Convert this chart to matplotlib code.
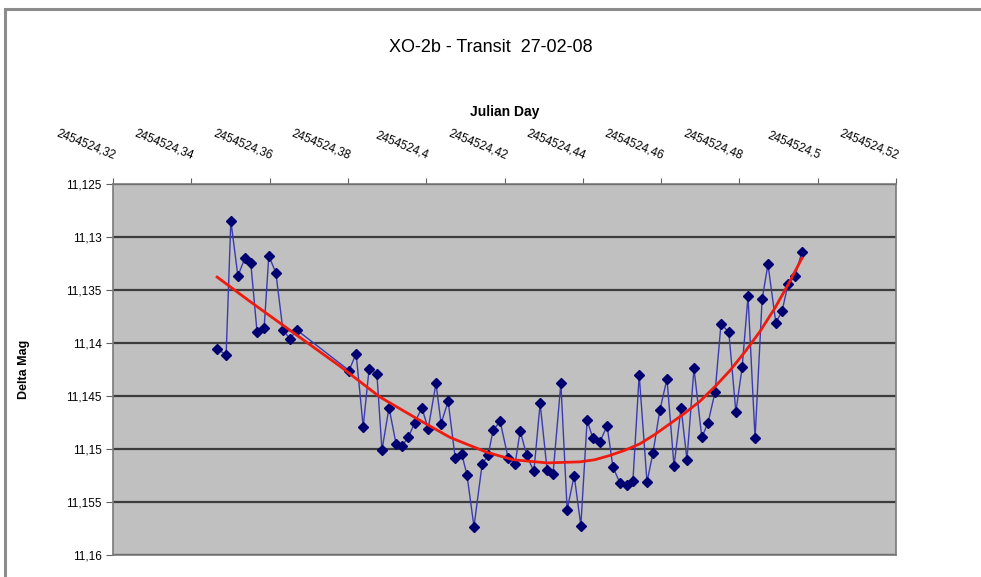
#!/usr/bin/env python3
import matplotlib

matplotlib.use("Agg")
import matplotlib.pyplot as plt
from matplotlib.patches import Rectangle
from matplotlib.ticker import FuncFormatter, MultipleLocator

plt.rcParams["font.family"] = ["Liberation Sans", "DejaVu Sans"]

JD_BASE = 2454524.0

# observation times (fraction of the Julian day after JD_BASE)
jd_frac = [
    0.3466, 0.3489, 0.3501, 0.3519, 0.3537, 0.3552, 0.3568, 0.3586, 0.3598, 0.3616,
    0.3634, 0.3652, 0.3670, 0.3803, 0.3821, 0.3839, 0.3854, 0.3874, 0.3887, 0.3905,
    0.3923, 0.3938, 0.3954, 0.3971, 0.3989, 0.4005, 0.4025, 0.4038, 0.4056, 0.4074,
    0.4091, 0.4104, 0.4122, 0.4143, 0.4158, 0.4171, 0.4189, 0.4209, 0.4227, 0.4240,
    0.4257, 0.4275, 0.4291, 0.4309, 0.4324, 0.4344, 0.4360, 0.4378, 0.4395, 0.4411,
    0.4426, 0.4444, 0.4462, 0.4477, 0.4495, 0.4513, 0.4528, 0.4544, 0.4564, 0.4579,
    0.4597, 0.4615, 0.4633, 0.4651, 0.4666, 0.4684, 0.4704, 0.4720, 0.4738, 0.4753,
    0.4773, 0.4791, 0.4807, 0.4822, 0.4840, 0.4858, 0.4873, 0.4893, 0.4909, 0.4924,
    0.4942, 0.4960,
]
delta_mag = [
    11.1406, 11.1411, 11.1285, 11.1337, 11.1320, 11.1325, 11.1390, 11.1386, 11.1318, 11.1334,
    11.1388, 11.1396, 11.1388, 11.1426, 11.1410, 11.1479, 11.1425, 11.1429, 11.1501, 11.1461,
    11.1495, 11.1497, 11.1489, 11.1475, 11.1461, 11.1481, 11.1438, 11.1476, 11.1455, 11.1508,
    11.1505, 11.1524, 11.1573, 11.1514, 11.1506, 11.1482, 11.1474, 11.1508, 11.1514, 11.1483,
    11.1506, 11.1521, 11.1457, 11.1520, 11.1523, 11.1438, 11.1557, 11.1525, 11.1572, 11.1473,
    11.1490, 11.1493, 11.1478, 11.1517, 11.1532, 11.1534, 11.1530, 11.1430, 11.1531, 11.1504,
    11.1463, 11.1434, 11.1516, 11.1461, 11.1510, 11.1424, 11.1489, 11.1475, 11.1446, 11.1382,
    11.1390, 11.1465, 11.1423, 11.1356, 11.1490, 11.1359, 11.1326, 11.1381, 11.1370, 11.1345,
    11.1337, 11.1314,
]

# trend line
trend_frac = [
    0.3466, 0.3550, 0.3678, 0.3780, 0.3882, 0.3984, 0.4061, 0.4155, 0.4222, 0.4309,
    0.4393, 0.4431, 0.4469, 0.4508, 0.4546, 0.4585, 0.4623, 0.4661, 0.4699, 0.4738,
    0.4776, 0.4815, 0.4853, 0.4891, 0.4929, 0.4960,
]
trend_mag = [
    11.1338, 11.1361, 11.1395, 11.1422, 11.1451, 11.1473, 11.1489, 11.1503, 11.1510, 11.1513,
    11.1512, 11.1510, 11.1506, 11.1501, 11.1495, 11.1486, 11.1476, 11.1466, 11.1455, 11.1441,
    11.1426, 11.1408, 11.1389, 11.1367, 11.1342, 11.1320,
]

title = "XO-2b - Transit  27-02-08"
x_label = "Julian Day"
y_label = "Delta Mag"


def comma(v, _pos=None, digits=3):
    s = f"{v:.{digits}f}".rstrip("0").rstrip(".")
    return s.replace(".", ",")


fig = plt.figure(figsize=(9.81, 5.77), dpi=100)
fig.patches.append(Rectangle((5 / 981, -0.1), 1.2, 1 - 9 / 577 + 0.1, transform=fig.transFigure,
                             fill=False, edgecolor="#8c8c8c", linewidth=2.2, zorder=0))

ax = fig.add_axes([113 / 981, 1 - 555.3 / 577, 783 / 981, (555.3 - 183.6) / 577])
ax.set_facecolor("#c0c0c0")

xs = [JD_BASE + f for f in jd_frac]
txs = [JD_BASE + f for f in trend_frac]
ax.plot(xs, delta_mag, color="#3a3ab0", linewidth=1.0, marker="D", markersize=4.6,
        markerfacecolor="#000070", markeredgecolor="#000070", zorder=3)
ax.plot(txs, trend_mag, color="#ee1c10", linewidth=2.0, zorder=4)

ax.set_xlim(JD_BASE + 0.32, JD_BASE + 0.52)
ax.set_ylim(11.16, 11.125)
ax.xaxis.set_major_locator(MultipleLocator(0.02))
ax.yaxis.set_major_locator(MultipleLocator(0.005))
ax.xaxis.set_major_formatter(FuncFormatter(lambda v, p: comma(v, p, 2)))
ax.yaxis.set_major_formatter(FuncFormatter(lambda v, p: comma(v, p, 3)))
ax.grid(axis="y", color="#3c3c3c", linewidth=1.6)
ax.set_axisbelow(True)

ax.xaxis.tick_top()
ax.xaxis.set_label_position("top")
ax.tick_params(axis="x", direction="out", length=4, color="#606060", pad=12, labelsize=8.5)
ax.tick_params(axis="y", direction="out", length=5, color="#606060", pad=3, labelsize=8.5)
for lbl in ax.get_xticklabels():
    lbl.set_rotation(-22)
    lbl.set_ha("right")
    lbl.set_rotation_mode("anchor")
for sp in ax.spines.values():
    sp.set_color("#7a7a7a")
    sp.set_linewidth(1.2)

ax.set_xlabel(x_label, fontsize=10, fontweight="bold", labelpad=8)
ax.set_ylabel(y_label, fontsize=9, fontweight="bold", labelpad=26)

fig.text(491 / 981, 1 - 47 / 577, title, ha="center", va="center", fontsize=13)

fig.savefig("out.png", dpi=100)
